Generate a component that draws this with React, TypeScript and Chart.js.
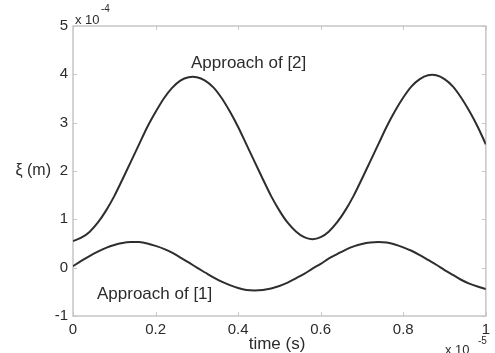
import React, { useEffect, useRef } from "react";
import { Chart, registerables } from "chart.js";

Chart.register(...registerables);

// time in units of 1e-5 s
const timeValues = [
  0, 0.02, 0.04, 0.06, 0.08, 0.1, 0.12, 0.14, 0.16, 0.18,
  0.2, 0.22, 0.24, 0.26, 0.28, 0.3, 0.32, 0.34, 0.36, 0.38,
  0.4, 0.42, 0.44, 0.46, 0.48, 0.5, 0.52, 0.54, 0.56, 0.58,
  0.6, 0.62, 0.64, 0.66, 0.68, 0.7, 0.72, 0.74, 0.76, 0.78,
  0.8, 0.82, 0.84, 0.86, 0.88, 0.9, 0.92, 0.94, 0.96, 0.98, 1.0,
];

// displacement in units of 1e-4 m
const approach2Values = [
  0.55, 0.62, 0.74, 0.93, 1.18, 1.48, 1.83, 2.19, 2.55, 2.91,
  3.22, 3.5, 3.72, 3.87, 3.94, 3.94, 3.87, 3.73, 3.51, 3.23,
  2.91, 2.55, 2.19, 1.83, 1.48, 1.18, 0.93, 0.75, 0.63, 0.59,
  0.63, 0.75, 0.94, 1.19, 1.49, 1.84, 2.2, 2.56, 2.92, 3.24,
  3.52, 3.75, 3.9, 3.98, 3.98, 3.9, 3.75, 3.52, 3.24, 2.92, 2.55,
];

const approach1Values = [
  0.03, 0.14, 0.24, 0.33, 0.41, 0.47, 0.51, 0.53, 0.53, 0.5,
  0.45, 0.39, 0.31, 0.21, 0.11, 0.0, -0.1, -0.2, -0.29, -0.36,
  -0.42, -0.46, -0.47, -0.46, -0.43, -0.38, -0.31, -0.22, -0.13, -0.02,
  0.08, 0.19, 0.28, 0.37, 0.44, 0.49, 0.52, 0.53, 0.52, 0.48,
  0.42, 0.35, 0.26, 0.16, 0.06, -0.05, -0.15, -0.25, -0.33, -0.39, -0.44,
];

const xTickValues = [0, 0.2, 0.4, 0.6, 0.8, 1];
const xTickLabels = ["0", "0.2", "0.4", "0.6", "0.8", "1"];
const yTickValues = [-1, 0, 1, 2, 3, 4, 5];
const yTickLabels = ["-1", "0", "1", "2", "3", "4", "5"];

const FONT = "'Liberation Sans', Arial, sans-serif";
const TEXT = "#2b2b2b";
const LINE = "#2e2e2e";

const decorPlugin = {
  id: "decor",
  beforeDatasetsDraw(chart: any) {
    const { ctx, chartArea: a, scales } = chart;
    ctx.save();
    ctx.strokeStyle = "#c6c6c6";
    ctx.lineWidth = 1.5;
    ctx.strokeRect(a.left, a.top, a.right - a.left, a.bottom - a.top);
    ctx.lineWidth = 1;
    ctx.beginPath();
    xTickValues.forEach((v) => {
      const px = Math.round(scales.x.getPixelForValue(v)) + 0.5;
      ctx.moveTo(px, a.bottom);
      ctx.lineTo(px, a.bottom - 4);
      ctx.moveTo(px, a.top);
      ctx.lineTo(px, a.top + 4);
    });
    yTickValues.forEach((v) => {
      const py = Math.round(scales.y.getPixelForValue(v)) + 0.5;
      ctx.moveTo(a.left, py);
      ctx.lineTo(a.left + 4, py);
      ctx.moveTo(a.right, py);
      ctx.lineTo(a.right - 4, py);
    });
    ctx.stroke();
    ctx.restore();
  },
  afterDraw(chart: any) {
    const { ctx, chartArea: a } = chart;
    ctx.save();
    ctx.fillStyle = TEXT;
    ctx.textBaseline = "middle";
    ctx.font = `17px ${FONT}`;
    ctx.textAlign = "left";
    ctx.fillText("Approach of [2]", 191, 63);
    ctx.fillText("Approach of [1]", 97, 294);
    ctx.textAlign = "center";
    ctx.fillText("time (s)", 277, 344);
    ctx.font = `16px ${FONT}`;
    ctx.textAlign = "right";
    ctx.fillText("ξ (m)", 51, 171);
    // exponent labels
    ctx.textAlign = "left";
    ctx.font = `13px ${FONT}`;
    ctx.fillText("x 10", a.left + 2, 20);
    ctx.font = `10px ${FONT}`;
    ctx.fillText("-4", a.left + 28, 9);
    ctx.font = `13px ${FONT}`;
    ctx.fillText("x 10", 445, 350);
    ctx.font = `10px ${FONT}`;
    ctx.fillText("-5", 478, 341);
    ctx.restore();
  },
};

export default function App() {
  const canvasRef = useRef<HTMLCanvasElement | null>(null);

  useEffect(() => {
    const canvas = canvasRef.current;
    if (!canvas) return;
    const chart = new Chart(canvas, {
      type: "line",
      data: {
        datasets: [
          {
            label: "Approach of [2]",
            data: timeValues.map((t, i) => ({ x: t, y: approach2Values[i] })),
            borderColor: LINE,
            borderWidth: 2,
            pointRadius: 0,
            tension: 0.3,
            fill: false,
          },
          {
            label: "Approach of [1]",
            data: timeValues.map((t, i) => ({ x: t, y: approach1Values[i] })),
            borderColor: LINE,
            borderWidth: 2,
            pointRadius: 0,
            tension: 0.3,
            fill: false,
          },
        ],
      },
      options: {
        responsive: false,
        animation: false,
        events: [],
        layout: { padding: { top: 26, right: 8, left: 0, bottom: 0 } },
        plugins: {
          legend: { display: false },
          tooltip: { enabled: false },
          title: { display: false },
        },
        scales: {
          x: {
            type: "linear",
            min: 0,
            max: 1,
            grid: { display: false, drawTicks: false },
            border: { display: false },
            afterBuildTicks: (scale: any) => {
              scale.ticks = xTickValues.map((v) => ({ value: v }));
            },
            afterFit: (scale: any) => {
              scale.height = 37;
            },
            ticks: {
              padding: 5,
              maxRotation: 0,
              color: TEXT,
              font: { family: FONT, size: 15 },
              callback: (_v: any, i: number) => xTickLabels[i],
            },
          },
          y: {
            type: "linear",
            min: -1,
            max: 5,
            grid: { display: false, drawTicks: false },
            border: { display: false },
            afterBuildTicks: (scale: any) => {
              scale.ticks = yTickValues.map((v) => ({ value: v }));
            },
            afterFit: (scale: any) => {
              scale.width = 73;
            },
            ticks: {
              padding: 5,
              color: TEXT,
              font: { family: FONT, size: 15 },
              callback: (_v: any, i: number) => yTickLabels[i],
            },
          },
        },
      },
      plugins: [decorPlugin],
    } as any);
    return () => chart.destroy();
  }, []);

  return (
    <div style={{ position: "fixed", left: 0, top: 0, width: 495, height: 353, background: "#fff" }}>
      <canvas ref={canvasRef} width={495} height={353} style={{ display: "block" }} />
    </div>
  );
}
